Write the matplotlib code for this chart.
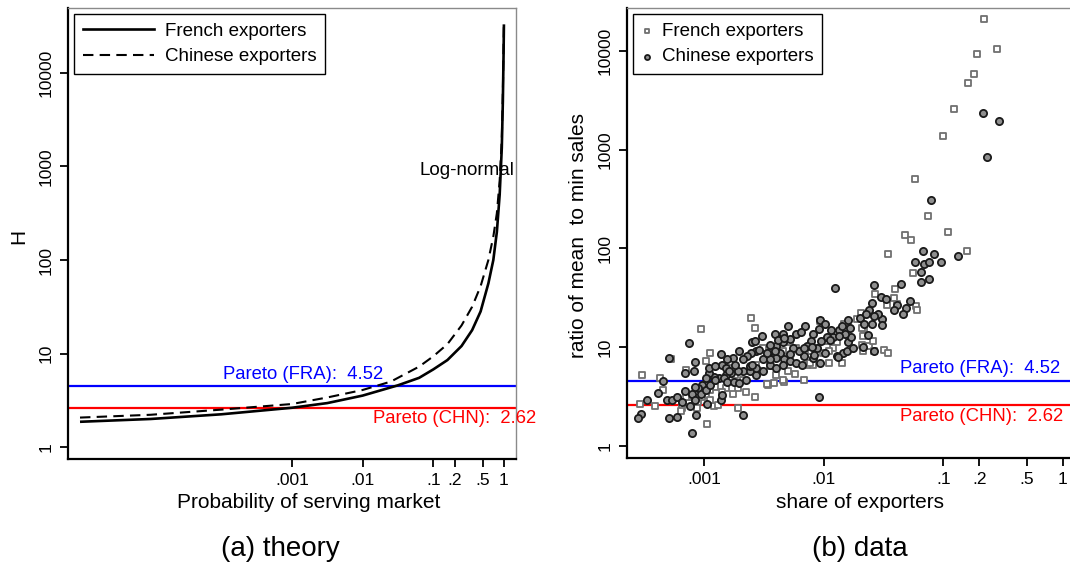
import numpy as np
import matplotlib
matplotlib.use("Agg")
import matplotlib.pyplot as plt
from matplotlib.lines import Line2D

plt.rcParams['font.family'] = ['Liberation Sans', 'DejaVu Sans']

# ---- panel (a): theory curves, log10(probability) vs log10(H)
fr_theory_logp = [-6.0, -5.0, -4.0, -3.0, -2.5, -2.0, -1.5, -1.2, -1.0, -0.8, -0.6,
                  -0.45, -0.33, -0.22, -0.15, -0.1, -0.06, -0.03, -0.015, -0.005, 0.0]
fr_theory_logH = [0.27, 0.30, 0.35, 0.42, 0.47, 0.55, 0.66, 0.74, 0.83, 0.93, 1.08,
                  1.25, 1.45, 1.75, 2.0, 2.3, 2.7, 3.2, 3.7, 4.2, 4.52]
cn_theory_logp = [-6.0, -5.0, -4.0, -3.0, -2.5, -2.0, -1.6, -1.2, -1.0, -0.8, -0.6,
                  -0.45, -0.33, -0.22, -0.15, -0.1, -0.06, -0.03, -0.015, -0.005, 0.0]
cn_theory_logH = [0.315, 0.345, 0.40, 0.46, 0.53, 0.61, 0.70, 0.86, 0.97, 1.1, 1.3,
                  1.5, 1.72, 2.0, 2.25, 2.5, 2.85, 3.3, 3.8, 4.3, 4.52]

pareto_fra = 4.52
pareto_chn = 2.62

# ---- panel (b): data, (log10 share of exporters, log10 mean/min sales)
fr_points = [
    (-0.66, 4.32), (-0.55, 4.02), (-0.72, 3.97), (-0.74, 3.77), (-0.79, 3.68), (-0.91, 3.41),
    (-1.00, 3.14), (-1.24, 2.70), (-1.13, 2.33), (-1.32, 2.14), (-1.27, 2.09), (-0.96, 2.17),
    (-1.46, 1.94), (-0.80, 1.97), (-1.25, 1.75), (-1.40, 1.59), (-1.57, 1.54), (-1.47, 1.43),
    (-1.41, 1.50), (-1.23, 1.42), (-1.22, 1.38),
    (-1.39, 1.44), (-1.69, 1.35), (-1.66, 1.18), (-1.67, 0.96), (-1.62, 1.01), (-1.59, 1.06),
    (-1.58, 0.96), (-1.50, 0.97), (-1.46, 0.94), (-1.72, 1.29), (-1.83, 1.23), (-1.89, 1.05),
    (-1.92, 0.99), (-1.96, 0.96), (-2.03, 1.27), (-1.97, 1.06), (-2.01, 0.94), (-2.11, 0.96),
    (-2.14, 0.82), (-2.09, 0.82), (-2.17, 0.67), (-2.24, 0.73), (-2.33, 0.65), (-2.42, 0.64),
    (-2.47, 0.62), (-2.40, 0.72), (-2.30, 0.76), (-2.54, 0.76), (-2.57, 0.82), (-2.62, 0.76),
    (-2.68, 0.67), (-2.72, 0.59), (-2.76, 0.53), (-2.82, 0.59), (-2.85, 0.55), (-2.91, 0.60),
    (-2.95, 0.57), (-2.99, 0.52), (-3.05, 0.45), (-3.09, 0.48), (-3.13, 0.43), (-3.19, 0.38),
    (-3.06, 0.38), (-3.15, 0.50), (-2.61, 1.30), (-2.58, 1.19), (-3.03, 1.18), (-2.95, 0.94),
    (-2.99, 0.86), (-3.28, 0.88), (-3.52, 0.72), (-3.37, 0.69), (-3.35, 0.57), (-3.54, 0.42),
    (-3.41, 0.40), (-3.20, 0.35), (-2.72, 0.38), (-2.98, 0.22), (-3.15, 0.77), (-2.79, 0.79),
    (-2.74, 0.72), (-2.65, 0.55), (-2.58, 0.50), (-2.92, 0.40), (-2.89, 0.41), (-2.42, 0.93),
    (-2.34, 0.96), (-2.23, 0.99), (-2.28, 1.05), (-2.51, 0.99), (-2.45, 0.81),
    (-2.48, 0.63), (-2.34, 0.67), (-2.12, 0.84), (-1.96, 0.84), (-1.85, 0.84),
    (-1.68, 1.19), (-1.67, 1.11), (-1.68, 1.02), (-3.02, 0.50), (-2.95, 0.47),
]
cn_points = [
    (-0.67, 3.37), (-0.53, 3.29), (-0.63, 2.93), (-1.10, 2.49), (-1.17, 1.97), (-1.08, 1.94),
    (-0.88, 1.92), (-1.24, 1.86), (-1.16, 1.84), (-1.12, 1.86), (-1.02, 1.86), (-1.19, 1.76),
    (-1.19, 1.66), (-1.12, 1.69), (-1.35, 1.64), (-1.58, 1.63), (-1.52, 1.51), (-1.48, 1.49),
    (-1.60, 1.45), (-1.28, 1.47), (-1.39, 1.43), (-1.31, 1.40), (-1.34, 1.34), (-1.41, 1.38),
    (-1.91, 1.60), (-1.51, 1.29), (-1.51, 1.22), (-1.55, 1.34), (-1.58, 1.32), (-1.70, 1.30),
    (-1.62, 1.38), (-1.65, 1.34), (-1.66, 1.23), (-1.60, 1.23), (-1.63, 1.12), (-1.58, 0.96),
    (-1.89, 0.91), (-1.84, 0.94), (-1.80, 1.05), (-1.77, 1.10), (-1.82, 1.13), (-1.87, 1.17),
    (-1.92, 1.10), (-1.94, 1.17), (-1.97, 1.10), (-2.03, 1.28), (-1.99, 1.24), (-2.04, 1.18),
    (-2.09, 1.13), (-2.11, 1.06), (-2.14, 1.01), (-2.06, 0.99), (-2.03, 0.84), (-2.09, 0.89),
    (-2.17, 0.91), (-2.21, 0.96), (-2.26, 0.99), (-2.28, 0.93), (-2.33, 0.88), (-2.37, 0.94),
    (-2.40, 1.01), (-2.41, 1.13), (-2.34, 1.13), (-2.30, 1.21), (-2.23, 1.13), (-2.16, 1.21),
    (-2.19, 1.15), (-2.28, 1.08), (-2.34, 1.05), (-2.40, 0.89), (-2.44, 0.96), (-2.48, 0.91),
    (-2.52, 1.11), (-2.60, 1.05), (-2.57, 0.96), (-2.61, 0.94), (-2.64, 0.91), (-2.68, 0.88),
    (-2.71, 0.96), (-2.76, 0.89), (-2.81, 0.88), (-2.85, 0.82), (-2.68, 0.76), (-2.62, 0.76),
    (-2.57, 0.72), (-2.51, 0.76), (-2.45, 0.82), (-2.40, 0.79), (-2.34, 0.82), (-2.28, 0.86),
    (-2.23, 0.84), (-2.18, 0.82), (-2.72, 0.76), (-2.78, 0.74), (-2.82, 0.72), (-2.88, 0.69),
    (-2.92, 0.70), (-2.96, 0.74), (-2.99, 0.69), (-3.02, 0.62), (-3.05, 0.59), (-3.08, 0.60),
    (-3.03, 0.53), (-2.99, 0.57), (-2.95, 0.62), (-2.91, 0.67), (-2.86, 0.93), (-2.84, 0.69),
    (-2.81, 0.65), (-2.75, 0.65), (-2.71, 0.64), (-2.65, 0.67), (-2.96, 0.79), (-2.91, 0.81),
    (-3.30, 0.89), (-3.13, 1.04), (-3.08, 0.85), (-3.16, 0.74), (-3.09, 0.76), (-3.35, 0.66),
    (-3.39, 0.54), (-3.48, 0.47), (-3.31, 0.47), (-3.27, 0.47), (-3.23, 0.50), (-3.19, 0.45),
    (-3.16, 0.56), (-3.10, 0.53), (-3.08, 0.47), (-3.12, 0.40), (-3.07, 0.31), (-3.10, 0.13),
    (-2.98, 0.42), (-3.30, 0.28), (-3.23, 0.29), (-3.53, 0.32), (-3.56, 0.28), (-2.86, 0.47),
    (-2.85, 0.52), (-2.68, 0.31), (-2.04, 0.50), (-2.82, 0.79), (-2.74, 0.82), (-2.79, 0.76),
    (-2.62, 0.81), (-2.57, 0.79), (-2.51, 0.88), (-2.45, 0.88), (-2.60, 0.82),
    (-1.85, 1.21), (-1.80, 1.28), (-1.78, 1.19), (-2.58, 1.06), (-2.45, 1.02), (-2.38, 1.07),
    (-2.33, 1.09), (-2.17, 0.99), (-2.10, 1.00), (-2.02, 1.06), (-1.95, 1.07), (-1.87, 1.11),
    (-2.54, 0.97), (-2.48, 0.94), (-2.41, 0.96), (-2.08, 0.92), (-1.99, 0.94), (-1.88, 0.90),
    (-1.81, 0.96), (-1.76, 0.99), (-1.67, 1.00),
]

xticks = [0.001, 0.01, 0.1, 0.2, 0.5, 1]
xtick_labels = ['.001', '.01', '.1', '.2', '.5', '1']
yticks = [1, 10, 100, 1000, 10000]
ytick_labels = ['1', '10', '100', '1000', '10000']

W, H = 1070, 568
fig = plt.figure(figsize=(W / 100, H / 100), dpi=100)


def px_axes(left, top, right, bottom):
    return fig.add_axes([left / W, 1 - bottom / H, (right - left) / W, (bottom - top) / H])


def style_axes(ax):
    ax.set_xscale('log')
    ax.set_yscale('log')
    ax.minorticks_off()
    ax.set_xticks(xticks, labels=xtick_labels)
    ax.set_yticks(yticks, labels=ytick_labels)
    for lab in ax.get_yticklabels():
        lab.set_rotation(90)
        lab.set_va('center')
    ax.tick_params(axis='both', direction='out', length=6, width=1.3,
                   labelsize=12.5, pad=4, color='black')
    ax.spines['left'].set_linewidth(1.6)
    ax.spines['bottom'].set_linewidth(1.6)
    for s in ('top', 'right'):
        ax.spines[s].set_color('#8a8a8a')
        ax.spines[s].set_linewidth(1.0)


# ---- panel (a)
ax1 = px_axes(68, 8, 516, 459)
style_axes(ax1)
ax1.set_xlim(10 ** -6.17, 10 ** 0.171)
ax1.set_ylim(10 ** -0.128, 10 ** 4.695)

ax1.axhline(pareto_fra, color='#0000ff', lw=1.6)
ax1.axhline(pareto_chn, color='#ff0000', lw=1.6)
ax1.plot(10 ** np.array(fr_theory_logp), 10 ** np.array(fr_theory_logH),
         color='black', lw=1.9, solid_capstyle='butt')
ax1.plot(10 ** np.array(cn_theory_logp), 10 ** np.array(cn_theory_logH),
         color='black', lw=1.5, ls=(0, (5, 3)))

ax1.text(10 ** -3.97, 10 ** 0.78, f'Pareto (FRA):  {pareto_fra:.2f}', color='#0000ff',
         fontsize=13.3, ha='left', va='center')
ax1.text(10 ** -1.86, 10 ** 0.30, f'Pareto (CHN):  {pareto_chn:.2f}', color='#ff0000',
         fontsize=13.3, ha='left', va='center', clip_on=False)
ax1.text(10 ** -1.19, 10 ** 2.96, 'Log-normal', fontsize=13.5, ha='left', va='center')

leg1 = ax1.legend(handles=[Line2D([], [], color='black', lw=1.9),
                           Line2D([], [], color='black', lw=1.5, ls=(0, (5, 3)))],
                  labels=['French exporters', 'Chinese exporters'],
                  loc='upper left', bbox_to_anchor=(0.014, 0.986), borderaxespad=0,
                  fontsize=13.5, handlelength=3.8, handletextpad=0.6, labelspacing=0.45,
                  borderpad=0.45, fancybox=False, framealpha=1, edgecolor='black')
leg1.get_frame().set_linewidth(1.0)

# ---- panel (b)
ax2 = px_axes(627, 8, 1070, 458)
style_axes(ax2)
ax2.spines['right'].set_visible(False)
ax2.set_xlim(10 ** -3.648, 10 ** 0.061)
ax2.set_ylim(10 ** -0.122, 10 ** 4.435)

ax2.axhline(pareto_fra, color='#0000ff', lw=1.6)
ax2.axhline(pareto_chn, color='#ff0000', lw=1.6)

fr_log_share, fr_log_ratio = np.array(fr_points).T
cn_log_share, cn_log_ratio = np.array(cn_points).T
ax2.scatter(10 ** fr_log_share, 10 ** fr_log_ratio, marker='s', s=24,
            facecolors='white', edgecolors='#707070', linewidths=1.3, zorder=3,
            label='French exporters')
ax2.scatter(10 ** cn_log_share, 10 ** cn_log_ratio, marker='o', s=27,
            facecolors='#8f8f8f', edgecolors='#1a1a1a', linewidths=1.3, zorder=4,
            label='Chinese exporters')

ax2.text(10 ** -0.018, 10 ** 0.78, f'Pareto (FRA):  {pareto_fra:.2f}', color='#0000ff',
         fontsize=13.3, ha='right', va='center')
ax2.text(10 ** 0.0, 10 ** 0.30, f'Pareto (CHN):  {pareto_chn:.2f}', color='#ff0000',
         fontsize=13.3, ha='right', va='center')

leg2 = ax2.legend(loc='upper left', bbox_to_anchor=(0.0135, 0.986), borderaxespad=0,
                  fontsize=13.5, handlelength=0.6, handletextpad=0.5, labelspacing=0.45,
                  borderpad=0.45, markerscale=0.7, fancybox=False, framealpha=1,
                  edgecolor='black')
leg2.get_frame().set_linewidth(1.0)

# ---- titles and axis labels
fig.text(19 / W, 1 - 236 / H, 'H', rotation=90, fontsize=15, ha='center', va='center')
fig.text(578 / W, 1 - 235 / H, 'ratio of mean  to min sales', rotation=90,
         fontsize=15, ha='center', va='center')
fig.text(309 / W, 1 - 503 / H, 'Probability of serving market', fontsize=15,
         ha='center', va='center')
fig.text(860 / W, 1 - 503 / H, 'share of exporters', fontsize=15, ha='center', va='center')
fig.text(280 / W, 1 - 549 / H, '(a) theory', fontsize=20, ha='center', va='center')
fig.text(860 / W, 1 - 549 / H, '(b) data', fontsize=20, ha='center', va='center')

fig.savefig('out.png', dpi=100)
